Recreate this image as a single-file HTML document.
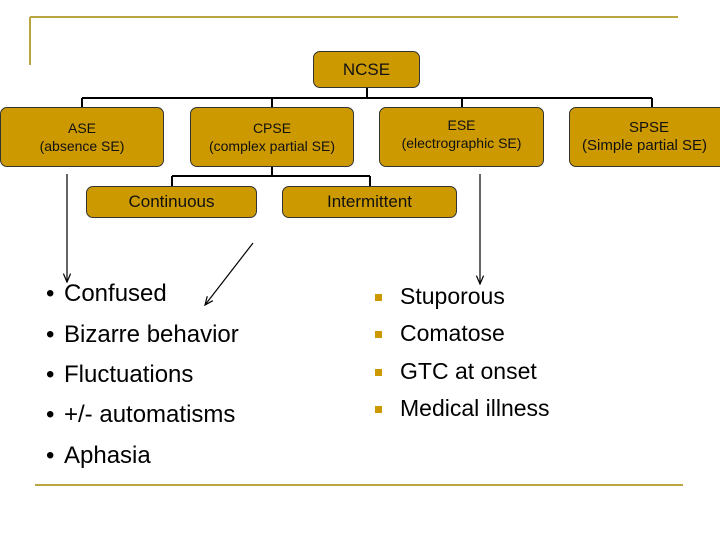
<!DOCTYPE html>
<html><head><style>
body{margin:0;width:720px;height:540px;background:#fff;position:relative;overflow:hidden;font-family:"Liberation Sans",sans-serif}
.b{position:absolute;background:#cc9900;border:1px solid #333;border-radius:7px;box-sizing:border-box;display:flex;flex-direction:column;align-items:center;justify-content:center;text-align:center;color:#111;font-size:14px;line-height:18px}
.t{position:absolute;font-size:24px;color:#000;white-space:nowrap}
.r{position:absolute;font-size:23px;color:#000;white-space:nowrap}
.sq{position:absolute;width:7px;height:7px;background:#cc9900}
</style></head><body>
<svg width="720" height="540" style="position:absolute;left:0;top:0">
<defs><marker id="a" markerWidth="8" markerHeight="8" refX="7" refY="4" orient="auto"><path d="M0,1 L7,4 L0,7" fill="none" stroke="#000"/></marker></defs>
<line x1="30" y1="17" x2="678" y2="17" stroke="#b8a640" stroke-width="2"/>
<line x1="30" y1="17" x2="30" y2="65" stroke="#b8a640" stroke-width="2"/>
<line x1="35" y1="485" x2="683" y2="485" stroke="#b8a640" stroke-width="2"/>
<g stroke="#000" stroke-width="2" fill="none">
<line x1="367" y1="88" x2="367" y2="98"/>
<line x1="82" y1="98" x2="652" y2="98"/>
<line x1="82" y1="98" x2="82" y2="107"/><line x1="272" y1="98" x2="272" y2="107"/>
<line x1="462" y1="98" x2="462" y2="107"/><line x1="652" y1="98" x2="652" y2="107"/>
<line x1="272" y1="167" x2="272" y2="176"/>
<line x1="172" y1="176" x2="370" y2="176"/>
<line x1="172" y1="176" x2="172" y2="186"/><line x1="370" y1="176" x2="370" y2="186"/>
</g>
<g stroke="#000" stroke-width="1.2">
<line x1="67" y1="174" x2="67" y2="282" marker-end="url(#a)"/>
<line x1="480" y1="174" x2="480" y2="284" marker-end="url(#a)"/>
<line x1="253" y1="243" x2="205" y2="305" marker-end="url(#a)"/>
<line x1="575" y1="108" x2="720" y2="165"/>
</g>
</svg>
<div class="b" style="left:313px;top:51px;width:107px;height:37px;font-size:17px">NCSE</div>
<div class="b" style="left:0;top:107px;width:164px;height:60px"><div>ASE</div><div>(absence SE)</div></div>
<div class="b" style="left:190px;top:107px;width:164px;height:60px"><div>CPSE</div><div>(complex partial SE)</div></div>
<div class="b" style="left:379px;top:107px;width:165px;height:60px;justify-content:flex-start;padding-top:8px"><div>ESE</div><div>(electrographic SE)</div></div>
<div class="b" style="left:569px;top:107px;width:170px;height:60px;align-items:flex-start;padding-left:12px;font-size:15px"><div style="padding-left:47px">SPSE</div><div>(Simple partial SE)</div></div>
<div class="b" style="left:86px;top:186px;width:171px;height:32px;font-size:17px">Continuous</div>
<div class="b" style="left:282px;top:186px;width:175px;height:32px;font-size:17px">Intermittent</div>
<div class="t" style="left:46px;top:280px">•</div><div class="t" style="left:64px;top:280px">Confused</div>
<div class="t" style="left:46px;top:321px">•</div><div class="t" style="left:64px;top:321px">Bizarre behavior</div>
<div class="t" style="left:46px;top:361px">•</div><div class="t" style="left:64px;top:361px">Fluctuations</div>
<div class="t" style="left:46px;top:401px">•</div><div class="t" style="left:64px;top:401px">+/- automatisms</div>
<div class="t" style="left:46px;top:442px">•</div><div class="t" style="left:64px;top:442px">Aphasia</div>
<div class="sq" style="left:375px;top:294px"></div><div class="r" style="left:400px;top:283px">Stuporous</div>
<div class="sq" style="left:375px;top:331px"></div><div class="r" style="left:400px;top:320px">Comatose</div>
<div class="sq" style="left:375px;top:369px"></div><div class="r" style="left:400px;top:358px">GTC at onset</div>
<div class="sq" style="left:375px;top:406px"></div><div class="r" style="left:400px;top:395px">Medical illness</div>
</body></html>
